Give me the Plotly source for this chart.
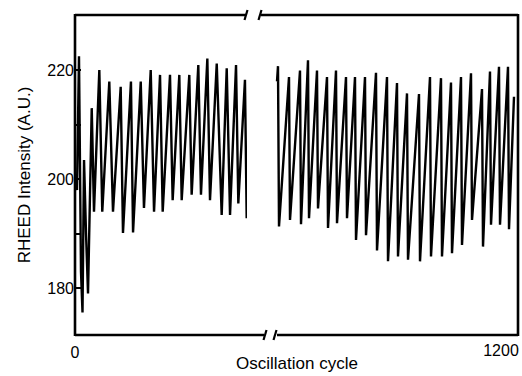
import plotly.graph_objects as go

# ---- data (cycle number, RHEED intensity A.U.) ----
left_cycle = [0.0, 0.21, 0.42, 0.63, 0.79, 0.95, 1.16, 1.37,
              1.76, 2.0, 2.56, 2.87, 3.61, 4.0, 4.81, 5.05, 5.89, 6.11,
              6.92, 7.26, 7.97, 8.32, 8.95, 9.23, 10.0, 10.28, 10.98, 11.23,
              12.03, 12.28, 12.98, 13.26, 13.93, 14.21, 14.92, 15.44,
              15.97, 16.32, 16.95, 17.19, 17.89, 18.07]
left_intensity = [200.0, 198.0, 222.5, 183.0, 175.5, 203.5, 190.0, 179.0,
                  213.0, 194.0, 220.0, 194.0, 217.9, 194.0, 216.9, 190.1, 217.9, 190.2,
                  217.9, 194.7, 220.0, 194.0, 219.1, 194.0, 219.1, 196.1, 219.1, 196.1,
                  219.1, 197.1, 220.9, 197.1, 222.1, 196.1, 221.2, 193.4,
                  220.3, 193.4, 220.9, 195.5, 218.2, 192.8]

right_cycle = [1177.6, 1177.7, 1177.8, 1178.8, 1178.9, 1179.9, 1180.0, 1180.7, 1180.8,
               1181.6, 1181.7, 1182.6, 1182.7, 1183.5, 1183.6, 1184.5, 1184.6,
               1185.4, 1185.5, 1186.4, 1186.5, 1187.5, 1187.6, 1188.6, 1188.7,
               1189.6, 1189.7, 1190.6, 1190.7, 1191.8, 1191.9, 1192.9, 1193.0,
               1194.0, 1194.1, 1195.0, 1195.1, 1196.0, 1196.1, 1197.0, 1197.1,
               1198.1, 1198.2, 1198.9, 1199.0, 1199.8, 1199.9, 1200.7, 1200.8, 1201.3]
right_intensity = [217.9, 220.7, 191.3, 218.7, 192.5, 219.9, 191.7, 221.8, 192.8,
                   219.9, 194.6, 218.7, 191.0, 219.9, 191.9, 218.7, 192.8,
                   218.7, 188.8, 218.7, 189.7, 219.5, 186.9, 218.7, 184.9,
                   217.6, 185.8, 215.7, 185.2, 215.6, 184.9, 218.7, 185.8,
                   218.5, 185.8, 217.7, 186.4, 218.7, 187.9, 219.4, 192.5,
                   216.5, 187.6, 219.7, 191.6, 220.6, 191.6, 220.6, 190.8, 215.1]

y_ticks = [180, 190, 200, 210, 220]
y_tick_text = ["180", "", "200", "", "220"]

FONT = "Liberation Sans, Arial, Helvetica, sans-serif"
W, H = 522, 376
L, R, T, B = 75, 518, 15, 335

def px(xp):
    return (xp - L) / (R - L)

def py(yp):
    return (B - yp) / (B - T)

fig = go.Figure()
fig.add_trace(go.Scatter(x=left_cycle, y=left_intensity, mode="lines",
                         line=dict(color="black", width=2.4), xaxis="x", yaxis="y",
                         showlegend=False, hoverinfo="skip"))
fig.add_trace(go.Scatter(x=right_cycle, y=right_intensity, mode="lines",
                         line=dict(color="black", width=2.4), xaxis="x2", yaxis="y",
                         showlegend=False, hoverinfo="skip"))

lw = 2.6
shapes = []
def seg(x0, y0, x1, y1, w=lw):
    shapes.append(dict(type="line", xref="paper", yref="paper",
                       x0=px(x0), y0=py(y0), x1=px(x1), y1=py(y1),
                       line=dict(color="black", width=w)))

# frame with broken top and bottom edges
seg(L, T - 1, L, B + 1)
seg(R, T - 1, R, B + 1)
seg(L, T, 246, T)
seg(261, T, R, T)
seg(L, B, 264, B)
seg(277, B, R, B)
# break marks
for xb in (246, 260):
    seg(xb - 1.5, T + 5, xb + 1.5, T - 5, 2.2)
for xb in (265, 275):
    seg(xb - 1.5, B + 5, xb + 1.5, B - 5, 2.2)

fig.update_layout(
    width=W, height=H,
    margin=dict(l=L, r=W - R, t=T, b=H - B),
    paper_bgcolor="white", plot_bgcolor="white",
    font=dict(family=FONT, size=16, color="black"),
    shapes=shapes,
    xaxis=dict(domain=[0, px(247)], range=[0, (247 - L) / 9.5],
               tickvals=[0], ticktext=["0"], ticks="", showgrid=False,
               zeroline=False, showline=False, anchor="y",
               ticklabelstandoff=6, tickfont=dict(size=16)),
    xaxis2=dict(domain=[px(262), 1], range=[1200 - (501 - 262) / 10, 1200 + (R - 501) / 10],
                tickvals=[1200], ticktext=["1200"], ticks="", showgrid=False,
                zeroline=False, showline=False, anchor="y",
                ticklabelstandoff=4, tickfont=dict(size=16)),
    yaxis=dict(range=[171.38, 230.09], tickvals=y_ticks, ticktext=y_tick_text,
               ticks="inside", ticklen=6, tickwidth=2, tickcolor="black",
               showgrid=False, zeroline=False, showline=False,
               title=dict(text="RHEED Intensity (A.U.)", font=dict(size=17), standoff=12),
               tickfont=dict(size=16)),
    annotations=[dict(text="Oscillation cycle", xref="paper", yref="paper",
                      x=0.5, y=py(363), xanchor="center", yanchor="middle",
                      showarrow=False, font=dict(size=17))],
)

fig.write_html("out.html")
